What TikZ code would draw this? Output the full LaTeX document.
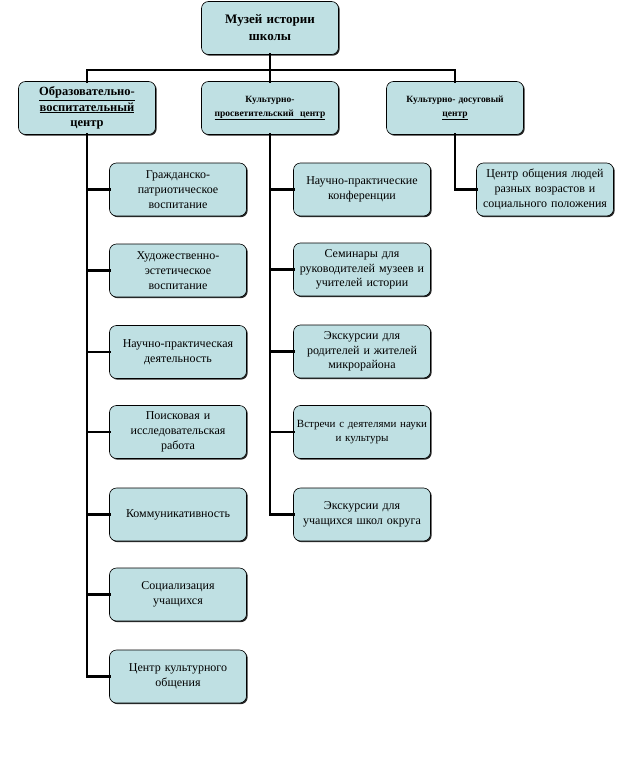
\documentclass[tikz,border=0pt]{standalone}
\usepackage{fontspec}
\setmainfont{Liberation Serif}
\usetikzlibrary{shadows}
\definecolor{boxfill}{RGB}{191,224,227}
\begin{document}
\begin{tikzpicture}[x=1pt,y=-1pt,
  box/.style={draw=black, line width=0.6pt, fill=boxfill, rounded corners=7pt,
    minimum width=137pt, minimum height=53pt, text width=135pt, align=center, inner sep=1pt,
    drop shadow={shadow xshift=1.2pt, shadow yshift=-1.2pt, fill=black!85, opacity=1},
    font=\fontsize{12}{14.8}\selectfont},
  headbig/.style={font=\fontsize{12.5}{15.5}\selectfont\bfseries},
  headsmall/.style={font=\fontsize{9.5}{14}\selectfont\bfseries},
  link/.style={line width=2.8pt, line cap=rect}]
\useasboundingbox (0,0) rectangle (624,768);
% top
\node[box, font=\fontsize{13}{17}\selectfont\bfseries] (top) at (270,28) {Музей истории\\школы};
\coordinate (bl) at (88,70);
\coordinate (br) at (455,70);
% headers
\node[box, headbig] (h1) at (87,108) {\underline{Образовательно-}\\\underline{воспитательный}\\центр};
\node[box, headsmall] (h2) at (270,108) {Культурно-\\\underline{просветительский\ \ центр}};
\node[box, headsmall] (h3) at (455,108) {Культурно- досуговый\\\underline{центр}};
% left column
\node[box] (l1) at (178,189.5) {Гражданско-\\патриотическое\\воспитание};
\node[box] (l2) at (178,270.5) {Художественно-\\эстетическое\\воспитание};
\node[box] (l3) at (178,352) {Научно-практическая\\деятельность};
\node[box] (l4) at (178,432) {Поисковая и\\исследовательская\\работа};
\node[box] (l5) at (178,514.5) {Коммуникативность};
\node[box] (l6) at (178,594.5) {Социализация\\учащихся};
\node[box] (l7) at (178,676.5) {Центр культурного\\общения};
% middle column
\node[box] (m1) at (362,189.5) {Научно-практические\\конференции};
\node[box] (m2) at (362,269.5) {Семинары для\\руководителей музеев и\\учителей истории};
\node[box] (m3) at (362,351.5) {Экскурсии для\\родителей и жителей\\микрорайона};
\node[box, font=\fontsize{11}{14.5}\selectfont] (m4) at (362,432) {Встречи с деятелями науки\\и культуры};
\node[box] (m5) at (362,514.5) {Экскурсии для\\учащихся школ округа};
% right column
\node[box] (r1) at (545,189.5) {Центр общения людей\\разных возрастов и\\социального положения};
% connectors
\draw[link] (bl) -- (br);
\draw[link] (top.south) -- (top.south |- bl);
\draw[link] (h1.north |- bl) -- (h1.north);
\draw[link] (h2.north |- bl) -- (h2.north);
\draw[link] (h3.north |- bl) -- (h3.north);
\draw[link] (h1.south) -- (h1.south |- l7.west);
\foreach \n in {l1,l2,l3,l4,l5,l6,l7}{\draw[link] (h1.south |- \n.west) -- (\n.west);}
\draw[link] (h2.south) -- (h2.south |- m5.west);
\foreach \n in {m1,m2,m3,m4,m5}{\draw[link] (h2.south |- \n.west) -- (\n.west);}
\draw[link] (h3.south) |- (r1.west);
\end{tikzpicture}
\end{document}
